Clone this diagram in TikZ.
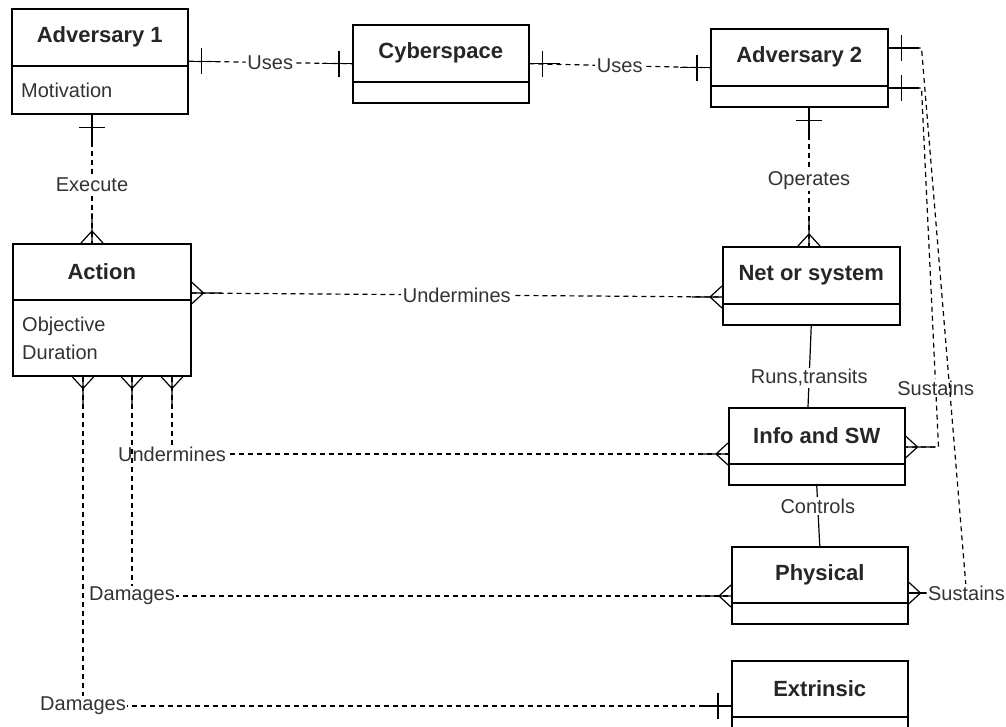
\documentclass[tikz,border=0pt]{standalone}
\usepackage{fontspec}
\setmainfont{Liberation Sans}
\usetikzlibrary{calc}
\tikzset{
  ebox/.style={draw, line width=1.5pt, anchor=north west, inner sep=0pt, fill=white},
  etitle/.style={font=\fontsize{22}{26}\selectfont\bfseries, text=black!85},
  attr/.style={font=\fontsize{20}{24}\selectfont, text=black!80, anchor=west, inner sep=0pt},
  lbl/.style={font=\fontsize{20}{24}\selectfont, text=black!80, fill=white, inner sep=1.5pt},
  conn/.style={line width=1.2pt, dash pattern=on 5pt off 4pt},
  link/.style={line width=1.2pt},
  onemark/.pic={\draw[line width=1.2pt] (0,0) -- (30,0) (13,-13) -- (13,13);},
  manymark/.pic={\draw[line width=1.2pt] (0,0) -- (30,0) (0,-11) -- (12,0) -- (0,11);},
}
% entity box: name, x, y, width, height, header height, title
\newcommand\erbox[7]{%
  \node[ebox, minimum width=#4pt, minimum height=#5pt] (#1) at (#2,#3) {};
  \draw[line width=1.5pt] ($(#1.north west)+(0,#6)$) -- ($(#1.north east)+(0,#6)$);
  \node[etitle] (#1-t) at ($(#1.north)+(0,#6/2)$) {#7};
}
\begin{document}
\begin{tikzpicture}[x=1pt,y=-1pt]
\useasboundingbox (0,0) rectangle (1006,726);
\clip (0,0) rectangle (1006,726);
\fill[white] (0,0) rectangle (1006,726);

% entities
\erbox{adv1}{11}{8}{176}{105}{58}{Adversary 1}
\erbox{cyber}{352}{24}{176}{78}{58}{Cyberspace}
\erbox{adv2}{710}{28}{177}{78}{58}{Adversary 2}
\erbox{act}{12}{243}{178}{132}{57}{Action}
\erbox{net}{722}{246}{177}{78}{58}{Net or system}
\erbox{info}{728}{407}{176}{77}{57}{Info and SW}
\erbox{phys}{731}{546}{176}{77}{57}{Physical}
\erbox{ext}{731}{660}{176}{77}{57}{Extrinsic}

% attributes
\node[attr] (adv1-a) at (21,90) {Motivation};
\node[attr] (act-a1) at (22,326) {Objective};
\node[attr] (act-a2) at (22,352) {Duration};

% attachment points
\coordinate (e1) at ($(adv1.south west)+(81,0)$);
\coordinate (e2) at ($(act.north west)+(80,0)$);
\coordinate (o1) at ($(adv2.south west)+(99,0)$);
\coordinate (o2) at ($(net.north west)+(87,0)$);
\coordinate (u1) at ($(act.north east)+(0,50)$);
\coordinate (u2) at ($(net.north west)+(0,51)$);
\coordinate (r2) at ($(info.north west)+(80,0)$);
\coordinate (a1) at ($(act.south west)+(71,0)$);
\coordinate (a2) at ($(act.south west)+(120,0)$);
\coordinate (a3) at ($(act.south west)+(160,0)$);
\coordinate (i1) at ($(info.north west)+(0,47)$);
\coordinate (i2) at ($(info.north east)+(0,40)$);
\coordinate (ph1) at ($(phys.north west)+(0,50)$);
\coordinate (ph2) at ($(phys.north east)+(0,47)$);
\coordinate (ex1) at ($(ext.north west)+(0,46)$);
\coordinate (s1) at ($(adv2.north east)+(0,60)$);
\coordinate (s2) at ($(adv2.north east)+(0,20)$);
\coordinate (k1) at ($(s1)+(33,0)$);
\coordinate (k2) at ($(i2)+(33,0)$);
\coordinate (k3) at ($(s2)+(33,0)$);
\coordinate (k4) at ($(ph2)+(58,0)$);

% cardinality marks
\pic at (adv1.east) {onemark};
\pic[rotate=180] at (cyber.west) {onemark};
\pic at (cyber.east) {onemark};
\pic[rotate=180] at (adv2.west) {onemark};
\pic[rotate=-90] at (e1) {onemark};
\pic[rotate=90] at (e2) {manymark};
\pic[rotate=-90] at (o1) {onemark};
\pic[rotate=90] at (o2) {manymark};
\pic at (u1) {manymark};
\pic[rotate=180] at (u2) {manymark};
\pic[rotate=-90] at (a1) {manymark};
\pic[rotate=-90] at (a2) {manymark};
\pic[rotate=-90] at (a3) {manymark};
\pic[rotate=180] at (i1) {manymark};
\pic[rotate=180] at (ph1) {manymark};
\pic[rotate=180] at (ex1) {onemark};
\pic at (s1) {onemark};
\pic at (s2) {onemark};
\pic at (i2) {manymark};
\pic at (ph2) {manymark};

% relationships
\draw[conn] (adv1.east) -- node[lbl] (l-uses1) {Uses} (cyber.west);
\draw[conn] (cyber.east) -- node[lbl] (l-uses2) {Uses} (adv2.west);
\draw[conn] (e1) -- node[lbl, pos=0.55] (l-exec) {Execute} (e2);
\draw[conn] (o1) -- node[lbl, pos=0.53] (l-oper) {Operates} (o2);
\draw[conn] (u1) -- node[lbl] (l-under1) {Undermines} (u2);
\draw[link] (net.south) -- node[lbl, pos=0.64] (l-runs) {Runs,transits} (r2);
\draw[link] (info.south) -- node[lbl, pos=0.34] (l-ctrl) {Controls} (phys.north);
\draw[conn] (a3) |- node[lbl] (l-under2) {Undermines} (i1);
\draw[conn] (a2) |- node[lbl] (l-dam1) {Damages} (ph1);
\draw[conn] (a1) |- node[lbl] (l-dam2) {Damages} (ex1);
\draw[conn] (s1) -- (k1) -- node[lbl, pos=0.836] (l-sust1) {Sustains} (k2) -- (i2);
\draw[conn] (s2) -- (k3) -- (k4) node[lbl] (l-sust2) {Sustains};
\draw[link] (ph2) -- (l-sust2.west);
\end{tikzpicture}
\end{document}
